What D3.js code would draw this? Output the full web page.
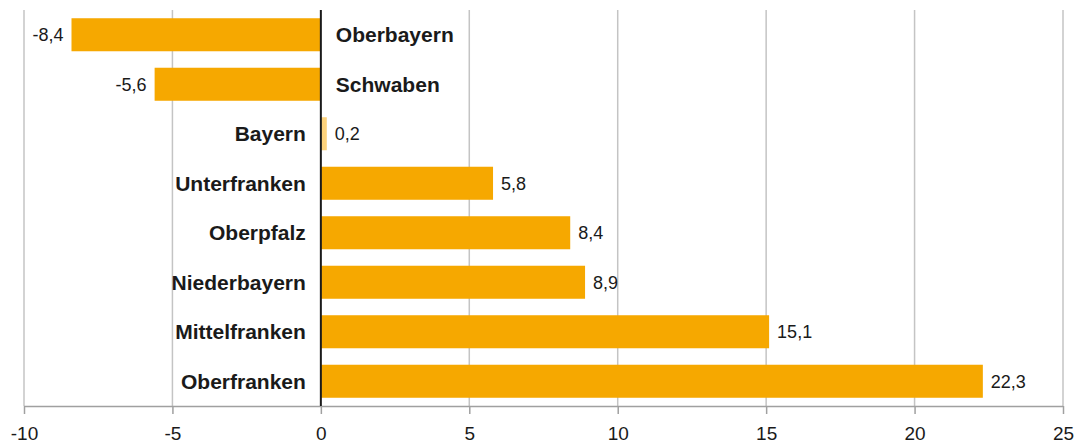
<!DOCTYPE html>
<html><head><meta charset="utf-8">
<script src="https://cdn.jsdelivr.net/npm/d3@7"></script>
<style>
html,body{margin:0;padding:0;background:#fff;}
svg{display:block;font-family:"Liberation Sans",Arial,Helvetica,sans-serif;}
</style></head><body>
<svg id="c" width="1076" height="444"></svg>
<script>
const categories = ["Oberbayern","Schwaben","Bayern","Unterfranken","Oberpfalz","Niederbayern","Mittelfranken","Oberfranken"];
const values = [-8.4,-5.6,0.2,5.8,8.4,8.9,15.1,22.3];
const highlight = ["Bayern"];
const tickValues = [-10,-5,0,5,10,15,20,25];

const svg = d3.select("#c");
const x = d3.scaleLinear().domain([-10,25]).range([24,1063]);
const y = d3.scaleBand().domain(categories).range([10,406]).paddingInner(0.333).paddingOuter(0.1665);
const fmt = v => String(v.toFixed(1)).replace(".",",");

// gridlines
svg.append("g").selectAll("line").data(tickValues.filter(t=>t!==0)).join("line")
  .attr("x1",d=>x(d)).attr("x2",d=>x(d)).attr("y1",10).attr("y2",406)
  .attr("stroke","#c4c4c4").attr("stroke-width",1.5);

// axis
const axis = d3.axisBottom(x).tickValues(tickValues).tickSize(8).tickPadding(13).tickFormat(d=>String(d));
const ag = svg.append("g").attr("transform","translate(0,406)").call(axis);
ag.select(".domain").attr("stroke","#a0a0a0").attr("stroke-width",1.5).attr("d","M24,0.5H1063");
ag.selectAll(".tick line").attr("stroke","#a0a0a0").attr("stroke-width",1.5);
ag.selectAll(".tick text").attr("fill","#1a1a1a").attr("font-size","19px").attr("font-family","Liberation Sans, Arial, sans-serif");

// bars
svg.append("g").selectAll("rect").data(categories).join("rect")
  .attr("x",(d,i)=>Math.min(x(0),x(values[i])))
  .attr("width",(d,i)=>Math.abs(x(values[i])-x(0)))
  .attr("y",d=>y(d)).attr("height",y.bandwidth())
  .attr("fill",d=>highlight.includes(d)?"#fcd27c":"#f6a800");

// zero line
svg.append("line").attr("x1",x(0)).attr("x2",x(0)).attr("y1",10).attr("y2",406)
  .attr("stroke","#1a1a1a").attr("stroke-width",2);

// category labels
svg.append("g").selectAll("text").data(categories).join("text")
  .attr("x",(d,i)=>values[i]<0?x(0)+15:x(0)-15)
  .attr("y",d=>y(d)+y.bandwidth()/2).attr("dy","0.35em")
  .attr("text-anchor",(d,i)=>values[i]<0?"start":"end")
  .attr("font-weight","bold").attr("font-size","21px").attr("fill","#1a1a1a")
  .text(d=>d);

// value labels
svg.append("g").selectAll("text").data(categories).join("text")
  .attr("x",(d,i)=>values[i]<0?x(values[i])-8:x(values[i])+8)
  .attr("y",d=>y(d)+y.bandwidth()/2).attr("dy","0.35em")
  .attr("text-anchor",(d,i)=>values[i]<0?"end":"start")
  .attr("font-size","18px").attr("fill","#1a1a1a")
  .text((d,i)=>fmt(values[i]));
</script>
</body></html>
